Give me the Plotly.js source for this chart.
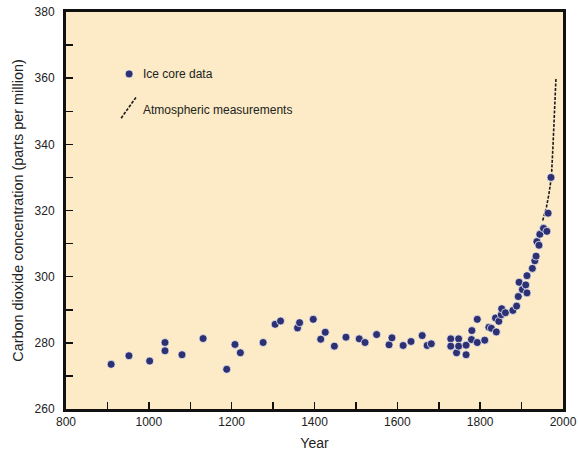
<!DOCTYPE html>
<html>
<head>
<meta charset="utf-8">
<script src="https://cdn.plot.ly/plotly-3.0.1.min.js"></script>
<style>
html,body{margin:0;padding:0;background:#fff;}
#chart{width:578px;height:457px;}
</style>
</head>
<body>
<div id="chart"></div>
<script>
// Ice core data (year, CO2 ppm)
const iceYears = [909, 952, 1002, 1039, 1039, 1080, 1131, 1188, 1208, 1221, 1276, 1305, 1318, 1359, 1364, 1397, 1415, 1426, 1448, 1476, 1508, 1522, 1550, 1580, 1587, 1614, 1633, 1660, 1672, 1682, 1729, 1729, 1743, 1748, 1748, 1766, 1766, 1779, 1780, 1793, 1793, 1811, 1821, 1827, 1839, 1837, 1845, 1851, 1852, 1861, 1879, 1888, 1892, 1894, 1902, 1910, 1913, 1913, 1926, 1932, 1935, 1937, 1942, 1944, 1953, 1961, 1964, 1971];
const icePpm = [273.5, 276.1, 274.5, 280.1, 277.6, 276.4, 281.3, 272.0, 279.5, 277.0, 280.1, 285.6, 286.6, 284.5, 286.1, 287.1, 281.1, 283.2, 279.0, 281.7, 281.2, 280.1, 282.5, 279.4, 281.5, 279.2, 280.4, 282.2, 279.2, 279.7, 281.2, 279.0, 277.0, 281.2, 279.0, 276.4, 279.3, 281.0, 283.7, 280.1, 287.1, 280.8, 284.7, 284.4, 283.3, 287.5, 286.5, 288.5, 290.3, 289.1, 289.8, 291.1, 294.0, 298.3, 296.1, 297.5, 295.1, 300.3, 302.5, 304.8, 306.2, 310.6, 309.5, 312.8, 314.6, 313.7, 319.2, 330.0];

// Atmospheric measurements (year, CO2 ppm)
const atmYears = [1951, 1960, 1966, 1972, 1976, 1979.5, 1983];
const atmPpm = [317, 321, 325, 330, 340, 350, 360];

// Labels
const legendLabels = ["Ice core data", "Atmospheric measurements"];
const xTitle = "Year";
const yTitle = "Carbon dioxide concentration (parts per million)";

const FONT = "'Liberation Sans', Arial, sans-serif";
const TXT = "#222222";
const DOT = "#2d3073";

const traces = [
  {
    x: atmYears, y: atmPpm, type: "scatter", mode: "lines",
    line: {color: "#1a1a1a", width: 1.6, dash: "3px,1.5px"},
    name: legendLabels[1], showlegend: false, hoverinfo: "skip"
  },
  {
    x: iceYears, y: icePpm, type: "scatter", mode: "markers",
    marker: {color: DOT, size: 8, line: {color: "rgba(255,255,255,0.7)", width: 1}},
    name: legendLabels[0], showlegend: false
  }
];

const layout = {
  width: 578, height: 457,
  margin: {l: 66, r: 15, t: 12, b: 48},
  paper_bgcolor: "#ffffff",
  plot_bgcolor: "#fcebc6",
  font: {family: FONT, color: TXT, size: 12},
  xaxis: {
    range: [800, 2000], tickmode: "linear", dtick: 100, tick0: 800, ticklabelstep: 2,
    ticks: "inside", ticklen: 7, tickwidth: 1.5, tickcolor: "#111",
    ticklabeloverflow: "allow",
    showgrid: false, zeroline: false,
    showline: true, linecolor: "#111", linewidth: 3, mirror: true,
    tickfont: {family: FONT, size: 12, color: TXT},
    title: {text: xTitle, font: {family: FONT, size: 14, color: TXT}, standoff: 10}
  },
  yaxis: {
    range: [260, 380], tickmode: "linear", dtick: 10, tick0: 260, ticklabelstep: 2,
    ticks: "inside", ticklen: 7, tickwidth: 1.5, tickcolor: "#111",
    ticklabeloverflow: "allow",
    showgrid: false, zeroline: false,
    showline: true, linecolor: "#111", linewidth: 3, mirror: true,
    ticklabelstandoff: 6,
    tickfont: {family: FONT, size: 12, color: TXT},
    title: {text: yTitle, font: {family: FONT, size: 14.4, color: TXT}, standoff: 8}
  },
  shapes: [
    {type: "circle", xref: "paper", yref: "paper", xsizemode: "pixel", ysizemode: "pixel",
     xanchor: 0.127, yanchor: 0.844, x0: -4, x1: 4, y0: -4, y1: 4,
     fillcolor: DOT, line: {color: "rgba(255,255,255,0.7)", width: 1}},
    {type: "line", xref: "paper", yref: "paper", xsizemode: "pixel", ysizemode: "pixel",
     xanchor: 0.126, yanchor: 0.759, x0: -7.5, x1: 7.5, y0: -10.5, y1: 10.5,
     line: {color: "#1a1a1a", width: 1.6, dash: "3px,1.5px"}}
  ],
  annotations: [
    {xref: "paper", yref: "paper", x: 0.151, y: 0.844, xanchor: "left", yanchor: "middle",
     text: legendLabels[0], showarrow: false, font: {family: FONT, size: 12, color: TXT}},
    {xref: "paper", yref: "paper", x: 0.151, y: 0.753, xanchor: "left", yanchor: "middle",
     text: legendLabels[1], showarrow: false, font: {family: FONT, size: 12, color: TXT}}
  ]
};

Plotly.newPlot("chart", traces, layout, {staticPlot: true, displayModeBar: false});
</script>
</body>
</html>
